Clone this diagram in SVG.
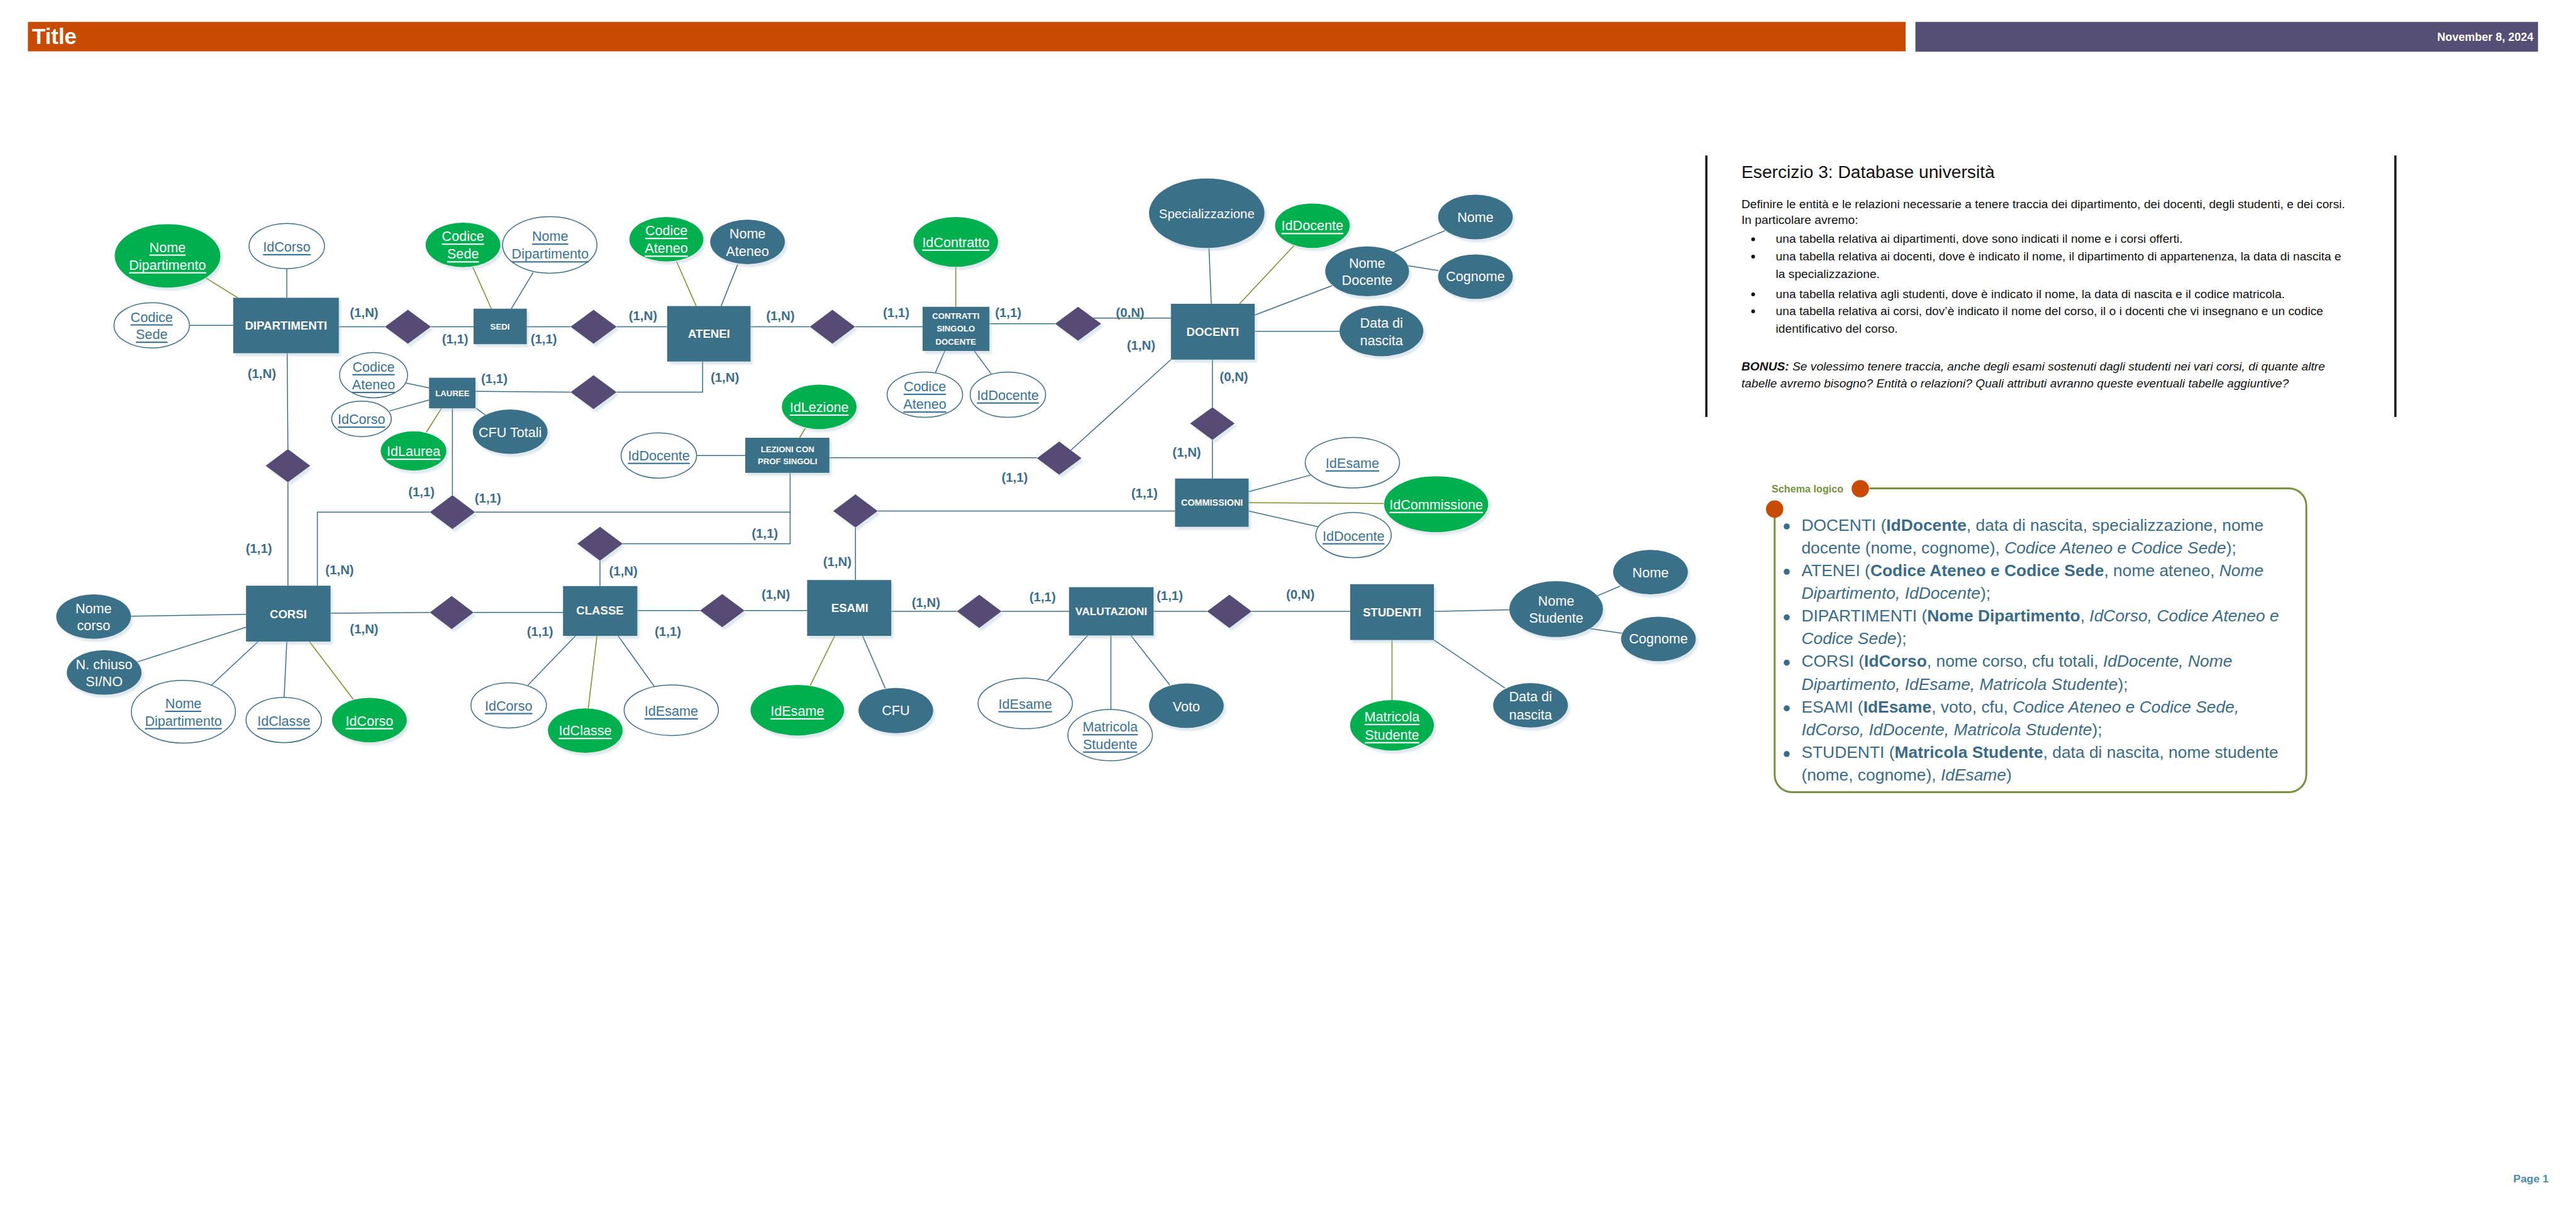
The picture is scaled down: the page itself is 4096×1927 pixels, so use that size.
<svg xmlns="http://www.w3.org/2000/svg" width="4096" height="1927" viewBox="0 0 4096 1927">
<defs>
<filter id="sh" x="-20%" y="-20%" width="150%" height="150%"><feDropShadow dx="6" dy="8" stdDeviation="3" flood-color="#9fbccd" flood-opacity="0.35"/></filter>
<style>
text{font-family:'Liberation Sans',Arial,sans-serif}
.ent{fill:#3B7089;filter:url(#sh)}
.rel{fill:#554C75;filter:url(#sh)}
.key{fill:#00B050;filter:url(#sh)}
.att{fill:#3B7089;filter:url(#sh)}
.fk{fill:#fff;stroke:#3B7089;stroke-width:2.5}
.al{stroke:#3B7089;stroke-width:2.5;fill:none}
.kl{stroke:#848A23;stroke-width:2.5;fill:none}
.at{font-size:36px;text-anchor:middle;dominant-baseline:central}
.w{fill:#fff}
.b{fill:#3A7396}
.u{text-decoration:underline}
.lb{font-size:34px;font-weight:bold;fill:#3A6E8C;text-anchor:middle;dominant-baseline:central}
.et{font-size:31px;font-weight:bold;fill:#fff;text-anchor:middle;dominant-baseline:central}
.es{font-size:22px;font-weight:bold;fill:#fff;text-anchor:middle;dominant-baseline:central}
.pt{font-size:32px;fill:#111}
.sc{font-size:44px;fill:#386C8A}
</style>
</defs>
<rect width="4096" height="1927" fill="#fff"/>
<g transform="scale(0.6)">
<g id="header">
<rect x="74" y="58" width="4976" height="78" fill="#C94B02"/>
<text x="85" y="117" font-size="58" font-weight="bold" fill="#fff">Title</text>
<rect x="5076" y="58" width="1650" height="79" fill="#554E75"/>
<text x="6714" y="108" font-size="30" font-weight="bold" fill="#fff" text-anchor="end">November 8, 2024</text>
</g>

<g id="connectors">
<line class="al" x1="760" y1="713" x2="760" y2="789"/>
<line class="al" x1="502" y1="862" x2="618" y2="862"/>
<line class="al" x1="1413" y1="722" x2="1355" y2="818"/>
<line class="al" x1="1076" y1="1015" x2="1137" y2="1028"/>
<line class="al" x1="1032" y1="1089" x2="1137" y2="1060"/>
<line class="al" x1="1286" y1="1100" x2="1262" y2="1082"/>
<line class="al" x1="1955" y1="701" x2="1911" y2="811"/>
<line class="al" x1="2504" y1="930" x2="2479" y2="987"/>
<line class="al" x1="2582" y1="930" x2="2627" y2="991"/>
<line class="al" x1="1846" y1="1207" x2="1975" y2="1207"/>
<line class="al" x1="3204" y1="658" x2="3210" y2="805"/>
<line class="al" x1="3325" y1="835" x2="3530" y2="757"/>
<line class="al" x1="3694" y1="668" x2="3830" y2="611"/>
<line class="al" x1="3732" y1="704" x2="3812" y2="717"/>
<line class="al" x1="3325" y1="878" x2="3550" y2="878"/>
<line class="al" x1="3309" y1="1303" x2="3473" y2="1259"/>
<line class="al" x1="3309" y1="1354" x2="3493" y2="1396"/>
<line class="al" x1="347" y1="1633" x2="652" y2="1628"/>
<line class="al" x1="364" y1="1754" x2="652" y2="1662"/>
<line class="al" x1="561" y1="1815" x2="684" y2="1700"/>
<line class="al" x1="753" y1="1848" x2="760" y2="1700"/>
<line class="al" x1="1399" y1="1816" x2="1525" y2="1685"/>
<line class="al" x1="1734" y1="1819" x2="1638" y2="1685"/>
<line class="al" x1="2346" y1="1824" x2="2286" y2="1685"/>
<line class="al" x1="2775" y1="1804" x2="2882" y2="1684"/>
<line class="al" x1="2944" y1="1684" x2="2944" y2="1880"/>
<line class="al" x1="3100" y1="1815" x2="2997" y2="1684"/>
<line class="al" x1="3800" y1="1696" x2="3988" y2="1823"/>
<line class="al" x1="3800" y1="1620" x2="4000" y2="1616"/>
<line class="al" x1="4233" y1="1579" x2="4294" y2="1553"/>
<line class="al" x1="4214" y1="1666" x2="4298" y2="1678"/>
<line class="kl" x1="546" y1="737" x2="630" y2="789"/>
<line class="kl" x1="1253" y1="708" x2="1302" y2="818"/>
<line class="kl" x1="1130" y1="1145" x2="1170" y2="1082"/>
<line class="kl" x1="1793" y1="693" x2="1845" y2="811"/>
<line class="kl" x1="2533" y1="708" x2="2533" y2="813"/>
<line class="kl" x1="2134" y1="1135" x2="2119" y2="1160"/>
<line class="kl" x1="3429" y1="651" x2="3285" y2="805"/>
<line class="kl" x1="3309" y1="1332" x2="3667" y2="1334"/>
<line class="kl" x1="936" y1="1853" x2="820" y2="1700"/>
<line class="kl" x1="1559" y1="1877" x2="1582" y2="1685"/>
<line class="kl" x1="2147" y1="1817" x2="2212" y2="1685"/>
<line class="kl" x1="3689" y1="1696" x2="3689" y2="1855"/>
<line class="al" x1="898" y1="866" x2="1020" y2="866"/>
<line class="al" x1="1142" y1="866" x2="1255" y2="866"/>
<line class="al" x1="1396" y1="866" x2="1512" y2="866"/>
<line class="al" x1="1634" y1="866" x2="1768" y2="866"/>
<line class="al" x1="1989" y1="866" x2="2146" y2="866"/>
<line class="al" x1="2266" y1="866" x2="2445" y2="866"/>
<line class="al" x1="2622" y1="858" x2="2796" y2="858"/>
<line class="al" x1="2897" y1="843" x2="3103" y2="843"/>
<polyline class="al" points="1862,958 1862,1039 1634,1039"/>
<line class="al" x1="1260" y1="1037" x2="1512" y2="1039"/>
<line class="al" x1="761" y1="936" x2="763" y2="1190"/>
<line class="al" x1="763" y1="1278" x2="763" y2="1552"/>
<line class="al" x1="1199" y1="1082" x2="1199" y2="1312"/>
<polyline class="al" points="841,1552 841,1357 1139,1357"/>
<line class="al" x1="1259" y1="1357" x2="2094" y2="1357"/>
<polyline class="al" points="2094,1253 2094,1441 1650,1441"/>
<line class="al" x1="1590" y1="1486" x2="1590" y2="1553"/>
<line class="al" x1="2198" y1="1213" x2="2748" y2="1213"/>
<line class="al" x1="3103" y1="953" x2="2838" y2="1193"/>
<line class="al" x1="3213" y1="953" x2="3213" y2="1079"/>
<line class="al" x1="3213" y1="1166" x2="3213" y2="1268"/>
<line class="al" x1="2326" y1="1354" x2="3114" y2="1354"/>
<line class="al" x1="2267" y1="1398" x2="2267" y2="1537"/>
<line class="al" x1="876" y1="1625" x2="1139" y2="1623"/>
<line class="al" x1="1255" y1="1623" x2="1492" y2="1623"/>
<line class="al" x1="1689" y1="1618" x2="1855" y2="1618"/>
<line class="al" x1="1973" y1="1618" x2="2139" y2="1618"/>
<line class="al" x1="2362" y1="1620" x2="2536" y2="1620"/>
<line class="al" x1="2654" y1="1620" x2="2833" y2="1620"/>
<line class="al" x1="3057" y1="1620" x2="3199" y2="1620"/>
<line class="al" x1="3317" y1="1620" x2="3578" y2="1620"/>
</g>

<g id="cardinalities">
<text class="lb" x="965" y="829">(1,N)</text>
<text class="lb" x="1206" y="898">(1,1)</text>
<text class="lb" x="1441" y="898">(1,1)</text>
<text class="lb" x="1704" y="836">(1,N)</text>
<text class="lb" x="2068" y="836">(1,N)</text>
<text class="lb" x="2375" y="828">(1,1)</text>
<text class="lb" x="2672" y="828">(1,1)</text>
<text class="lb" x="2995" y="828">(0,N)</text>
<text class="lb" x="3024" y="915">(1,N)</text>
<text class="lb" x="1921" y="1000">(1,N)</text>
<text class="lb" x="1310" y="1003">(1,1)</text>
<text class="lb" x="694" y="990">(1,N)</text>
<text class="lb" x="3270" y="999">(0,N)</text>
<text class="lb" x="3145" y="1198">(1,N)</text>
<text class="lb" x="2689" y="1265">(1,1)</text>
<text class="lb" x="1117" y="1304">(1,1)</text>
<text class="lb" x="1293" y="1320">(1,1)</text>
<text class="lb" x="3033" y="1306">(1,1)</text>
<text class="lb" x="2027" y="1414">(1,1)</text>
<text class="lb" x="686" y="1454">(1,1)</text>
<text class="lb" x="900" y="1510">(1,N)</text>
<text class="lb" x="1652" y="1513">(1,N)</text>
<text class="lb" x="2219" y="1489">(1,N)</text>
<text class="lb" x="965" y="1667">(1,N)</text>
<text class="lb" x="1431" y="1673">(1,1)</text>
<text class="lb" x="1770" y="1673">(1,1)</text>
<text class="lb" x="2056" y="1575">(1,N)</text>
<text class="lb" x="2454" y="1596">(1,N)</text>
<text class="lb" x="2763" y="1581">(1,1)</text>
<text class="lb" x="3100" y="1579">(1,1)</text>
<text class="lb" x="3446" y="1575">(0,N)</text>
</g>

<g id="relationships">
<polygon id="r1" class="rel" points="1020,866 1081,821 1142,866 1081,911"/>
<polygon id="r2" class="rel" points="1512,866 1573,821 1634,866 1573,911"/>
<polygon id="r3" class="rel" points="2146,866 2206,821 2266,866 2206,911"/>
<polygon id="r4" class="rel" points="2796,858 2857,813 2918,858 2857,903"/>
<polygon id="r5" class="rel" points="1512,1039 1573,994 1634,1039 1573,1084"/>
<polygon id="r6" class="rel" points="704,1234 763,1190 822,1234 763,1278"/>
<polygon id="r7" class="rel" points="1139,1357 1199,1312 1259,1357 1199,1402"/>
<polygon id="r8" class="rel" points="2748,1214 2807,1170 2866,1214 2807,1258"/>
<polygon id="r9" class="rel" points="3154,1122 3213,1079 3272,1122 3213,1166"/>
<polygon id="r10" class="rel" points="1530,1441 1590,1396 1650,1441 1590,1486"/>
<polygon id="r11" class="rel" points="2208,1354 2267,1310 2326,1354 2267,1398"/>
<polygon id="r12" class="rel" points="1139,1623 1197,1579 1255,1623 1197,1667"/>
<polygon id="r13" class="rel" points="1855,1618 1914,1574 1973,1618 1914,1662"/>
<polygon id="r14" class="rel" points="2536,1620 2595,1576 2654,1620 2595,1664"/>
<polygon id="r15" class="rel" points="3199,1620 3258,1576 3317,1620 3258,1664"/>
</g>

<g id="e-dipartimenti"><rect class="ent" x="618" y="789" width="280" height="147"/><text class="et" x="758" y="862">DIPARTIMENTI</text></g>
<g id="e-sedi"><rect class="ent" x="1255" y="818" width="141" height="94"/><text class="es" x="1325" y="866">SEDI</text></g>
<g id="e-atenei"><rect class="ent" x="1768" y="811" width="221" height="147"/><text class="et" x="1879" y="884">ATENEI</text></g>
<g id="e-contratti"><rect class="ent" x="2445" y="813" width="177" height="117"/><text class="es" x="2533" y="838">CONTRATTI</text><text class="es" x="2533" y="871">SINGOLO</text><text class="es" x="2533" y="905">DOCENTE</text></g>
<g id="e-docenti"><rect class="ent" x="3103" y="805" width="222" height="148"/><text class="et" x="3214" y="879">DOCENTI</text></g>
<g id="e-lauree"><rect class="ent" x="1137" y="1001" width="123" height="81"/><text class="es" x="1199" y="1042">LAUREE</text></g>
<g id="e-lezioni"><rect class="ent" x="1975" y="1160" width="223" height="93"/><text class="es" x="2087" y="1190">LEZIONI CON</text><text class="es" x="2087" y="1223">PROF SINGOLI</text></g>
<g id="e-commissioni"><rect class="ent" x="3114" y="1268" width="195" height="128"/><text class="es" x="3212" y="1332" style="font-size:24px">COMMISSIONI</text></g>
<g id="e-corsi"><rect class="ent" x="652" y="1552" width="224" height="148"/><text class="et" x="764" y="1627">CORSI</text></g>
<g id="e-classe"><rect class="ent" x="1492" y="1553" width="197" height="132"/><text class="et" x="1590" y="1618">CLASSE</text></g>
<g id="e-esami"><rect class="ent" x="2139" y="1537" width="223" height="148"/><text class="et" x="2252" y="1610">ESAMI</text></g>
<g id="e-valutazioni"><rect class="ent" x="2833" y="1556" width="224" height="128"/><text class="et" x="2945" y="1620" style="font-size:29px">VALUTAZIONI</text></g>
<g id="e-studenti"><rect class="ent" x="3578" y="1548" width="222" height="148"/><text class="et" x="3689" y="1623">STUDENTI</text></g>

<g id="a-dip-nome"><ellipse class="key" cx="444" cy="678" rx="140" ry="84"/><text class="at w u" x="444" y="655">Nome</text><text class="at w u" x="444" y="702">Dipartimento</text></g>
<g id="a-dip-idcorso"><ellipse class="fk" cx="760" cy="652" rx="100" ry="60"/><text class="at b u" x="760" y="654">IdCorso</text></g>
<g id="a-dip-codsede"><ellipse class="fk" cx="402" cy="862" rx="100" ry="60"/><text class="at b u" x="402" y="840">Codice</text><text class="at b u" x="402" y="886">Sede</text></g>
<g id="a-sedi-cod"><ellipse class="key" cx="1227" cy="649" rx="99" ry="59"/><text class="at w u" x="1227" y="626">Codice</text><text class="at w u" x="1227" y="673">Sede</text></g>
<g id="a-sedi-nomedip"><ellipse class="fk" cx="1457" cy="649" rx="125" ry="75"/><text class="at b u" x="1458" y="626">Nome</text><text class="at b u" x="1458" y="673">Dipartimento</text></g>
<g id="a-lauree-codat"><ellipse class="fk" cx="990" cy="994" rx="90" ry="60"/><text class="at b u" x="990" y="972">Codice</text><text class="at b u" x="990" y="1019">Ateneo</text></g>
<g id="a-lauree-idcorso"><ellipse class="fk" cx="958" cy="1110" rx="79" ry="47"/><text class="at b u" x="958" y="1111">IdCorso</text></g>
<g id="a-lauree-id"><ellipse class="key" cx="1096" cy="1195" rx="87" ry="52"/><text class="at w u" x="1096" y="1196">IdLaurea</text></g>
<g id="a-lauree-cfu"><ellipse class="att" cx="1352" cy="1144" rx="99" ry="59"/><text class="at w" x="1352" y="1145">CFU Totali</text></g>
<g id="a-atenei-cod"><ellipse class="key" cx="1766" cy="634" rx="98" ry="59"/><text class="at w u" x="1766" y="611">Codice</text><text class="at w u" x="1766" y="658">Ateneo</text></g>
<g id="a-atenei-nome"><ellipse class="att" cx="1981" cy="641" rx="99" ry="59"/><text class="at w" x="1981" y="619">Nome</text><text class="at w" x="1981" y="666">Ateneo</text></g>
<g id="a-contr-id"><ellipse class="key" cx="2533" cy="641" rx="112" ry="66"/><text class="at w u" x="2533" y="642">IdContratto</text></g>
<g id="a-contr-codat"><ellipse class="fk" cx="2451" cy="1046" rx="100" ry="60"/><text class="at b u" x="2451" y="1024">Codice</text><text class="at b u" x="2451" y="1071">Ateneo</text></g>
<g id="a-contr-iddoc"><ellipse class="fk" cx="2671" cy="1046" rx="100" ry="60"/><text class="at b u" x="2671" y="1047">IdDocente</text></g>
<g id="a-lez-id"><ellipse class="key" cx="2171" cy="1078" rx="99" ry="59"/><text class="at w u" x="2171" y="1079">IdLezione</text></g>
<g id="a-lez-iddoc"><ellipse class="fk" cx="1746" cy="1207" rx="100" ry="60"/><text class="at b u" x="1746" y="1207">IdDocente</text></g>
<g id="a-doc-spec"><ellipse class="att" cx="3198" cy="565" rx="153" ry="92"/><text class="at w" x="3198" y="566" style="font-size:34px">Specializzazione</text></g>
<g id="a-doc-id"><ellipse class="key" cx="3478" cy="598" rx="99" ry="59"/><text class="at w u" x="3478" y="598">IdDocente</text></g>
<g id="a-doc-nomedoc"><ellipse class="att" cx="3623" cy="719" rx="111" ry="66"/><text class="at w" x="3623" y="697">Nome</text><text class="at w" x="3623" y="743">Docente</text></g>
<g id="a-doc-nome"><ellipse class="att" cx="3910" cy="575" rx="99" ry="59"/><text class="at w" x="3910" y="575">Nome</text></g>
<g id="a-doc-cognome"><ellipse class="att" cx="3910" cy="733" rx="99" ry="59"/><text class="at w" x="3910" y="733">Cognome</text></g>
<g id="a-doc-data"><ellipse class="att" cx="3661" cy="877" rx="111" ry="67"/><text class="at w" x="3661" y="855">Data di</text><text class="at w" x="3661" y="902">nascita</text></g>
<g id="a-comm-idesame"><ellipse class="fk" cx="3584" cy="1226" rx="125" ry="67"/><text class="at b u" x="3584" y="1227">IdEsame</text></g>
<g id="a-comm-id"><ellipse class="key" cx="3806" cy="1336" rx="138" ry="74"/><text class="at w u" x="3806" y="1337">IdCommissione</text></g>
<g id="a-comm-iddoc"><ellipse class="fk" cx="3587" cy="1418" rx="100" ry="60"/><text class="at b u" x="3587" y="1420">IdDocente</text></g>
<g id="a-corsi-nome"><ellipse class="att" cx="248" cy="1634" rx="99" ry="59"/><text class="at w" x="248" y="1612">Nome</text><text class="at w" x="248" y="1658">corso</text></g>
<g id="a-corsi-chiuso"><ellipse class="att" cx="276" cy="1782" rx="99" ry="59"/><text class="at w" x="276" y="1760">N. chiuso</text><text class="at w" x="276" y="1805">SI/NO</text></g>
<g id="a-corsi-nomedip"><ellipse class="fk" cx="486" cy="1886" rx="138" ry="83"/><text class="at b u" x="486" y="1864">Nome</text><text class="at b u" x="486" y="1910">Dipartimento</text></g>
<g id="a-corsi-idclasse"><ellipse class="fk" cx="752" cy="1908" rx="100" ry="60"/><text class="at b u" x="752" y="1910">IdClasse</text></g>
<g id="a-corsi-id"><ellipse class="key" cx="979" cy="1908" rx="99" ry="59"/><text class="at w u" x="979" y="1910">IdCorso</text></g>
<g id="a-classe-idcorso"><ellipse class="fk" cx="1348" cy="1869" rx="100" ry="60"/><text class="at b u" x="1348" y="1870">IdCorso</text></g>
<g id="a-classe-id"><ellipse class="key" cx="1551" cy="1936" rx="99" ry="59"/><text class="at w u" x="1551" y="1936">IdClasse</text></g>
<g id="a-classe-idesame"><ellipse class="fk" cx="1779" cy="1882" rx="125" ry="67"/><text class="at b u" x="1779" y="1884">IdEsame</text></g>
<g id="a-esami-id"><ellipse class="key" cx="2113" cy="1882" rx="124" ry="67"/><text class="at w u" x="2113" y="1884">IdEsame</text></g>
<g id="a-esami-cfu"><ellipse class="att" cx="2374" cy="1883" rx="99" ry="60"/><text class="at w" x="2374" y="1883">CFU</text></g>
<g id="a-val-idesame"><ellipse class="fk" cx="2717" cy="1864" rx="125" ry="67"/><text class="at b u" x="2717" y="1865">IdEsame</text></g>
<g id="a-val-matr"><ellipse class="fk" cx="2942" cy="1948" rx="112" ry="68"/><text class="at b u" x="2942" y="1926">Matricola</text><text class="at b u" x="2942" y="1972">Studente</text></g>
<g id="a-val-voto"><ellipse class="att" cx="3144" cy="1870" rx="99" ry="59"/><text class="at w" x="3144" y="1872">Voto</text></g>
<g id="a-stud-matr"><ellipse class="key" cx="3689" cy="1922" rx="111" ry="67"/><text class="at w u" x="3689" y="1899">Matricola</text><text class="at w u" x="3689" y="1947">Studente</text></g>
<g id="a-stud-data"><ellipse class="att" cx="4056" cy="1869" rx="99" ry="59"/><text class="at w" x="4056" y="1846">Data di</text><text class="at w" x="4056" y="1894">nascita</text></g>
<g id="a-stud-nomestud"><ellipse class="att" cx="4124" cy="1614" rx="124" ry="74"/><text class="at w" x="4124" y="1592">Nome</text><text class="at w" x="4124" y="1637">Studente</text></g>
<g id="a-stud-nome"><ellipse class="att" cx="4374" cy="1516" rx="99" ry="59"/><text class="at w" x="4374" y="1517">Nome</text></g>
<g id="a-stud-cognome"><ellipse class="att" cx="4395" cy="1693" rx="99" ry="59"/><text class="at w" x="4395" y="1693">Cognome</text></g>

<g id="exercise-panel">
<rect x="4519" y="412" width="6" height="693" fill="#1c1c1c"/>
<rect x="6345" y="412" width="6" height="693" fill="#1c1c1c"/>
<text x="4615" y="472" font-size="47" fill="#111">Esercizio 3: Database università</text>
<text class="pt" x="4615" y="551">Definire le entità e le relazioni necessarie a tenere traccia dei dipartimento, dei docenti, degli studenti, e dei corsi.</text>
<text class="pt" x="4615" y="593">In particolare avremo:</text>
<circle cx="4646" cy="634" r="5" fill="#111"/>
<text class="pt" x="4706" y="644">una tabella relativa ai dipartimenti, dove sono indicati il nome e i corsi offerti.</text>
<circle cx="4646" cy="680" r="5" fill="#111"/>
<text class="pt" x="4706" y="690">una tabella relativa ai docenti, dove è indicato il nome, il dipartimento di appartenenza, la data di nascita e</text>
<text class="pt" x="4706" y="737">la specializzazione.</text>
<circle cx="4646" cy="780" r="5" fill="#111"/>
<text class="pt" x="4706" y="790">una tabella relativa agli studenti, dove è indicato il nome, la data di nascita e il codice matricola.</text>
<circle cx="4646" cy="825" r="5" fill="#111"/>
<text class="pt" x="4706" y="835">una tabella relativa ai corsi, dov’è indicato il nome del corso, il o i docenti che vi insegnano e un codice</text>
<text class="pt" x="4706" y="882">identificativo del corso.</text>
<text class="pt" x="4615" y="982" font-style="italic"><tspan font-weight="bold">BONUS:</tspan> Se volessimo tenere traccia, anche degli esami sostenuti dagli studenti nei vari corsi, di quante altre</text>
<text class="pt" x="4615" y="1027" font-style="italic">tabelle avremo bisogno? Entità o relazioni? Quali attributi avranno queste eventuali tabelle aggiuntive?</text>
</g>

<g id="schema-logico">
<path d="M4954 1294 H6066 A46 46 0 0 1 6112 1340 V2053 A46 46 0 0 1 6066 2099 H4749 A46 46 0 0 1 4703 2053 V1371" fill="none" stroke="#77923C" stroke-width="5"/>
<circle cx="4930" cy="1295" r="23" fill="#C94B02"/>
<circle cx="4703" cy="1349" r="23" fill="#C94B02"/>
<text x="4695" y="1305" font-size="27" font-weight="bold" fill="#77923C">Schema logico</text>
<g fill="#386C8A">
<circle cx="4735" cy="1395" r="8"/><circle cx="4735" cy="1515" r="8"/><circle cx="4735" cy="1636" r="8"/><circle cx="4735" cy="1756" r="8"/><circle cx="4735" cy="1877" r="8"/><circle cx="4735" cy="1998" r="8"/>
</g>
<text class="sc" x="4774" y="1406">DOCENTI (<tspan font-weight="bold">IdDocente</tspan>, data di nascita, specializzazione, nome</text>
<text class="sc" x="4774" y="1467">docente (nome, cognome), <tspan font-style="italic">Codice Ateneo e Codice Sede</tspan>);</text>
<text class="sc" x="4774" y="1526">ATENEI (<tspan font-weight="bold">Codice Ateneo e Codice Sede</tspan>, nome ateneo, <tspan font-style="italic">Nome</tspan></text>
<text class="sc" x="4774" y="1587"><tspan font-style="italic">Dipartimento, IdDocente</tspan>);</text>
<text class="sc" x="4774" y="1647">DIPARTIMENTI (<tspan font-weight="bold">Nome Dipartimento</tspan>, <tspan font-style="italic">IdCorso, Codice Ateneo e</tspan></text>
<text class="sc" x="4774" y="1707"><tspan font-style="italic">Codice Sede</tspan>);</text>
<text class="sc" x="4774" y="1767">CORSI (<tspan font-weight="bold">IdCorso</tspan>, nome corso, cfu totali, <tspan font-style="italic">IdDocente, Nome</tspan></text>
<text class="sc" x="4774" y="1828"><tspan font-style="italic">Dipartimento, IdEsame, Matricola Studente</tspan>);</text>
<text class="sc" x="4774" y="1888">ESAMI (<tspan font-weight="bold">IdEsame</tspan>, voto, cfu, <tspan font-style="italic">Codice Ateneo e Codice Sede,</tspan></text>
<text class="sc" x="4774" y="1948"><tspan font-style="italic">IdCorso, IdDocente, Matricola Studente</tspan>);</text>
<text class="sc" x="4774" y="2009">STUDENTI (<tspan font-weight="bold">Matricola Studente</tspan>, data di nascita, nome studente</text>
<text class="sc" x="4774" y="2069">(nome, cognome), <tspan font-style="italic">IdEsame</tspan>)</text>
</g>

<text id="page" x="6754" y="3134" font-size="29" font-weight="bold" fill="#4A8AAA" text-anchor="end">Page 1</text>
</g>
</svg>
